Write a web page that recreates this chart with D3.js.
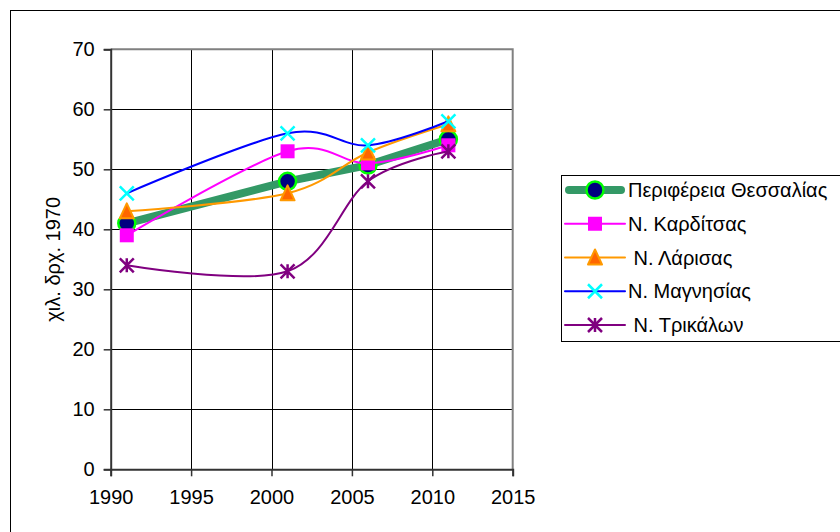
<!DOCTYPE html>
<html>
<head>
<meta charset="utf-8">
<script src="https://cdn.jsdelivr.net/npm/d3@7"></script>
<style>
  body { margin: 0; background: #fff; }
  svg { display: block; font-family: "Liberation Sans", Arial, sans-serif; }
</style>
</head>
<body>
<svg id="chart" width="840" height="532"></svg>
<script>
// δεδομένα
const years = [1991, 2001, 2006, 2011];
const thessalia = [41, 48, 50.7, 55];
const karditsa = [39, 53, 51, 54];
const larisa = [43, 46, 52.8, 57.5];
const magnisia = [46, 56, 54, 58];
const trikala = [34, 33, 48, 53];
const names = ['Περιφέρεια Θεσσαλίας', 'Ν. Καρδίτσας', ' Ν. Λάρισας', 'Ν. Μαγνησίας', ' Ν. Τρικάλων'];
const xTicks = [1990, 1995, 2000, 2005, 2010, 2015];
const yTicks = [0, 10, 20, 30, 40, 50, 60, 70];
const yLabel = 'χιλ. δρχ. 1970';

const series = [
    { name: names[0], values: thessalia, color: '#339966', width: 8, marker: 'circle', curve: d3.curveLinear },
    { name: names[1], values: karditsa, color: '#FF00FF', width: 2, marker: 'square', curve: d3.curveCardinal },
    { name: names[2], values: larisa, color: '#FF9900', width: 2, marker: 'triangle', curve: d3.curveCardinal },
    { name: names[3], values: magnisia, color: '#0000FF', width: 2, marker: 'x', curve: d3.curveCardinal },
    { name: names[4], values: trikala, color: '#800080', width: 2, marker: 'star', curve: d3.curveCardinal }
];

const svg = d3.select('#chart');

// εξωτερικό πλαίσιο
svg.append('rect')
    .attr('x', 10.5).attr('y', 10.5)
    .attr('width', 900).attr('height', 600)
    .attr('fill', '#fff').attr('stroke', '#000');

const x = d3.scaleLinear().domain([1990, 2015]).range([110.7, 512.7]);
const y = d3.scaleLinear().domain([0, 70]).range([469.3, 49.3]);

// γραμμές πλέγματος
svg.append('g').selectAll('line')
    .data(yTicks.slice(1, -1))
    .enter().append('line')
    .attr('x1', x(1990)).attr('x2', x(2015))
    .attr('y1', d => Math.round(y(d)) + 0.5).attr('y2', d => Math.round(y(d)) + 0.5)
    .attr('stroke', '#000');
svg.append('g').selectAll('line')
    .data(xTicks.slice(1, -1))
    .enter().append('line')
    .attr('y1', y(0)).attr('y2', y(70))
    .attr('x1', d => Math.round(x(d)) + 0.5).attr('x2', d => Math.round(x(d)) + 0.5)
    .attr('stroke', '#000');

// πλαίσιο περιοχής
svg.append('path')
    .attr('d', `M${x(1990)},${y(70)}H${x(2015)}V${y(0)}`)
    .attr('fill', 'none').attr('stroke', '#808080').attr('stroke-width', 2);

// άξονες
const xAxis = svg.append('g')
    .attr('transform', `translate(0,${y(0)})`)
    .call(d3.axisBottom(x).tickValues(xTicks).tickFormat(d3.format('d')).tickSize(7).tickPadding(14));
const yAxis = svg.append('g')
    .attr('transform', `translate(${x(1990)},0)`)
    .call(d3.axisLeft(y).tickValues(yTicks).tickSize(7).tickPadding(9));
[xAxis, yAxis].forEach(a => {
    a.select('.domain').attr('stroke', '#333').attr('stroke-width', 2);
    a.selectAll('.tick line').attr('stroke', '#333').attr('stroke-width', 1.5);
    a.selectAll('text').attr('font-size', 20).attr('fill', '#000')
        .attr('font-family', '"Liberation Sans", Arial, sans-serif');
});

svg.append('text')
    .attr('transform', `translate(60,${(y(0) + y(70)) / 2}) rotate(-90)`)
    .attr('text-anchor', 'middle')
    .attr('font-size', 20)
    .text(yLabel);

// σύμβολα
function drawMarker(g, type, cx, cy) {
    const s = 7;
    if (type === 'circle') {
        g.append('circle').attr('cx', cx).attr('cy', cy).attr('r', 8.5)
            .attr('fill', '#000080').attr('stroke', '#00FF00').attr('stroke-width', 2.5);
    } else if (type === 'square') {
        g.append('rect').attr('x', cx - s).attr('y', cy - s).attr('width', 2 * s).attr('height', 2 * s)
            .attr('fill', '#FF00FF');
    } else if (type === 'triangle') {
        g.append('path').attr('d', `M${cx},${cy - s - 1}L${cx + s},${cy + s}L${cx - s},${cy + s}Z`)
            .attr('fill', '#FF6600').attr('stroke', '#FF9900').attr('stroke-width', 2)
            .attr('stroke-linejoin', 'round');
    } else if (type === 'x') {
        g.append('path').attr('d', `M${cx - s},${cy - s}L${cx + s},${cy + s}M${cx + s},${cy - s}L${cx - s},${cy + s}`)
            .attr('stroke', '#00FFFF').attr('stroke-width', 2.5);
    } else if (type === 'star') {
        g.append('path').attr('d', `M${cx - s},${cy - s}L${cx + s},${cy + s}M${cx + s},${cy - s}L${cx - s},${cy + s}M${cx},${cy - s}V${cy + s}`)
            .attr('stroke', '#800080').attr('stroke-width', 2.5);
    }
}

series.forEach(s => {
    const g = svg.append('g');
    const line = d3.line()
        .x((d, i) => x(years[i]))
        .y(d => y(d))
        .curve(s.curve);
    g.append('path')
        .attr('d', line(s.values))
        .attr('fill', 'none')
        .attr('stroke', s.color)
        .attr('stroke-width', s.width)
        .attr('stroke-linecap', 'round');
    s.values.forEach((v, i) => drawMarker(g, s.marker, x(years[i]), y(v)));
});

// υπόμνημα
const legend = svg.append('g');
legend.append('rect')
    .attr('x', 561.5).attr('y', 175.5)
    .attr('width', 300).attr('height', 166)
    .attr('fill', '#fff').attr('stroke', '#000');
series.forEach((s, i) => {
    const ly = 190 + i * 33.75;
    const g = legend.append('g');
    g.append('line')
        .attr('x1', s.width > 2 ? 569 : 565).attr('x2', s.width > 2 ? 621 : 625)
        .attr('y1', ly).attr('y2', ly)
        .attr('stroke', s.color).attr('stroke-width', s.width)
        .attr('stroke-linecap', 'round');
    drawMarker(g, s.marker, 595, ly);
    g.append('text')
        .attr('x', 628).attr('y', ly).attr('dy', '0.35em')
        .attr('font-size', 20)
        .style('white-space', 'pre')
        .text(s.name);
});
</script>
</body>
</html>
